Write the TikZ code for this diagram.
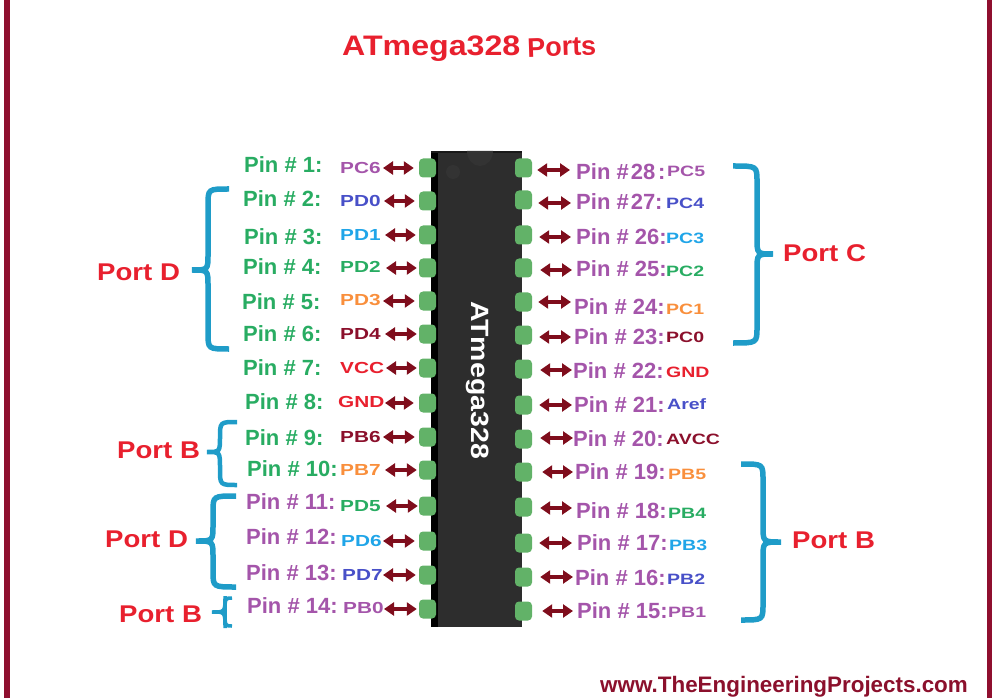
\documentclass[tikz,border=0pt]{standalone}
\usepackage{fontspec}
\setmainfont{Liberation Sans}
\newfontfamily\namefont[FakeStretch=1.3]{Liberation Sans}
\newfontfamily\portfont[FakeStretch=1.14]{Liberation Sans}
\usetikzlibrary{arrows.meta, positioning}
\definecolor{frameclr}{RGB}{143, 15, 47}
\definecolor{portred}{RGB}{232, 32, 46}
\definecolor{pingreen}{RGB}{40, 172, 98}
\definecolor{pinpurple}{RGB}{164, 85, 170}
\definecolor{nameblue}{RGB}{72, 80, 200}
\definecolor{namesky}{RGB}{32, 165, 232}
\definecolor{nameorange}{RGB}{249, 143, 60}
\definecolor{namedark}{RGB}{139, 16, 44}
\definecolor{arrowred}{RGB}{127, 13, 28}
\definecolor{braceblue}{RGB}{31, 156, 200}
\definecolor{padgreen}{RGB}{98, 178, 104}
\definecolor{chipgrey}{RGB}{45, 45, 45}
\newcommand{\portbrace}[6]{(#1,#4) .. controls (#2,#4) .. (#2,{#4+16}) -- (#2,{#5-16})
    .. controls (#2,#5) .. (#3,#5) .. controls (#2,#5) .. (#2,{#5+16})
    -- (#2,{#6-16}) .. controls (#2,#6) .. (#1,#6)}

\begin{document}
\begin{tikzpicture}[x=1pt, y=-1pt,
    pinlbl/.style={anchor=west, inner sep=0pt, font=\bfseries\fontsize{22}{24}\selectfont},
    pinname/.style={anchor=west, inner sep=0pt, font=\namefont\bfseries\fontsize{16}{18}\selectfont},
    rightname/.style={anchor=west, inner sep=0pt, font=\namefont\bfseries\fontsize{15}{18}\selectfont},
    portlbl/.style={anchor=west, inner sep=0pt, text=portred, font=\portfont\bfseries\fontsize{24.2}{26}\selectfont},
    pad/.style={rectangle, rounded corners=4pt, fill=padgreen, inner sep=0pt, minimum width=17pt, minimum height=19pt},
    pinarrow/.style={{Triangle[length=10pt, width=13pt]}-{Triangle[length=10pt, width=13pt]}, line width=4pt, arrowred},
    portbr/.style={draw=braceblue, line width=5.5pt}]

    \useasboundingbox (0,0) rectangle (1000,700);

    % Frame
    \draw[frameclr, line width=5.5pt] (6.75,0) -- (6.75,698);
    \draw[frameclr, line width=5.5pt] (989.5,0) -- (989.5,698);

    % Title
    \node[portlbl, font=\portfont\bfseries\fontsize{28.2}{30}\selectfont] (title) at (342,49) {ATmega328};
    \node[portlbl, rotate=2, font=\bfseries\fontsize{27}{30}\selectfont] (titleb) at (527,48) {Ports};

    % Chip
    \node[rectangle, fill=chipgrey, inner sep=0pt, minimum width=91pt, minimum height=476pt] (chip) at (476.5,389) {};
    \fill[black] (chip.north west) rectangle ([xshift=7pt]chip.south west);
    \fill[black!90] (chip.north west) rectangle ([yshift=-2pt]chip.north east);
    \fill[black!80] (467,151) arc[x radius=13, y radius=15, start angle=180, end angle=0] -- cycle;
    \fill[black!80] (453,172) circle[radius=7];
    \node[rotate=-90, text=white, font=\portfont\bfseries\fontsize{25}{26}\selectfont] (chipname) at (478,380) {ATmega328};

    % Left pads
    \node[pad] (padL1) at (427.5,168) {};
    \node[pad] (padL2) at (427.5,201) {};
    \node[pad] (padL3) at (427.5,235) {};
    \node[pad] (padL4) at (427.5,268) {};
    \node[pad] (padL5) at (427.5,301) {};
    \node[pad] (padL6) at (427.5,334) {};
    \node[pad] (padL7) at (427.5,368) {};
    \node[pad] (padL8) at (427.5,403) {};
    \node[pad] (padL9) at (427.5,437) {};
    \node[pad] (padL10) at (427.5,470) {};
    \node[pad] (padL11) at (427.5,506) {};
    \node[pad] (padL12) at (427.5,541) {};
    \node[pad] (padL13) at (427.5,575) {};
    \node[pad] (padL14) at (427.5,609) {};

    % Right pads
    \node[pad] (padR28) at (523.5,168) {};
    \node[pad] (padR27) at (523.5,200) {};
    \node[pad] (padR26) at (523.5,235) {};
    \node[pad] (padR25) at (523.5,268) {};
    \node[pad] (padR24) at (523.5,302) {};
    \node[pad] (padR23) at (523.5,335) {};
    \node[pad] (padR22) at (523.5,369) {};
    \node[pad] (padR21) at (523.5,405) {};
    \node[pad] (padR20) at (523.5,439) {};
    \node[pad] (padR19) at (523.5,472) {};
    \node[pad] (padR18) at (523.5,507) {};
    \node[pad] (padR17) at (523.5,543) {};
    \node[pad] (padR16) at (523.5,577) {};
    \node[pad] (padR15) at (523.5,611) {};

    % Left pin labels
    \node[pinlbl, text=pingreen] (pinL1) at (244,165) {Pin \# 1:};
    \node[pinlbl, text=pingreen] (pinL2) at (243,199) {Pin \# 2:};
    \node[pinlbl, text=pingreen] (pinL3) at (244,237) {Pin \# 3:};
    \node[pinlbl, text=pingreen] (pinL4) at (243,267) {Pin \# 4:};
    \node[pinlbl, text=pingreen] (pinL5) at (242,302) {Pin \# 5:};
    \node[pinlbl, text=pingreen] (pinL6) at (243,334) {Pin \# 6:};
    \node[pinlbl, text=pingreen] (pinL7) at (243,368) {Pin \# 7:};
    \node[pinlbl, text=pingreen] (pinL8) at (245,402) {Pin \# 8:};
    \node[pinlbl, text=pingreen] (pinL9) at (245,438) {Pin \# 9:};
    \node[pinlbl, text=pingreen] (pinL10) at (247,469) {Pin \# 10:};
    \node[pinlbl, text=pinpurple] (pinL11) at (246,502) {Pin \# 11:};
    \node[pinlbl, text=pinpurple] (pinL12) at (246,537) {Pin \# 12:};
    \node[pinlbl, text=pinpurple] (pinL13) at (246,573) {Pin \# 13:};
    \node[pinlbl, text=pinpurple] (pinL14) at (247,606) {Pin \# 14:};

    % Left port names
    \node[pinname, text=pinpurple] (nameL1) at (340,168) {PC6};
    \node[pinname, text=nameblue] (nameL2) at (340,201) {PD0};
    \node[pinname, text=namesky] (nameL3) at (340,235) {PD1};
    \node[pinname, text=pingreen] (nameL4) at (340,267) {PD2};
    \node[pinname, text=nameorange] (nameL5) at (340,300) {PD3};
    \node[pinname, text=namedark] (nameL6) at (340,334) {PD4};
    \node[pinname, text=portred] (nameL7) at (340,368) {VCC};
    \node[pinname, text=portred] (nameL8) at (338,402) {GND};
    \node[pinname, text=namedark] (nameL9) at (340,437) {PB6};
    \node[pinname, text=nameorange] (nameL10) at (340,470) {PB7};
    \node[pinname, text=pingreen] (nameL11) at (340,506) {PD5};
    \node[pinname, text=namesky] (nameL12) at (341,541) {PD6};
    \node[pinname, text=nameblue] (nameL13) at (342,575) {PD7};
    \node[pinname, text=pinpurple] (nameL14) at (343,608) {PB0};

    % Right pin labels
    \node[pinlbl, text=pinpurple] (pinR28) at (576,172) {Pin \#\kern2pt 28\kern3pt:};
    \node[pinlbl, text=pinpurple] (pinR27) at (576,202) {Pin \#\kern2pt 27:};
    \node[pinlbl, text=pinpurple] (pinR26) at (576,237) {Pin \# 26:};
    \node[pinlbl, text=pinpurple] (pinR25) at (576,269) {Pin \# 25:};
    \node[pinlbl, text=pinpurple] (pinR24) at (574,307) {Pin \# 24:};
    \node[pinlbl, text=pinpurple] (pinR23) at (574,337) {Pin \# 23:};
    \node[pinlbl, text=pinpurple] (pinR22) at (573,371) {Pin \# 22:};
    \node[pinlbl, text=pinpurple] (pinR21) at (574,405) {Pin \# 21:};
    \node[pinlbl, text=pinpurple] (pinR20) at (573,439) {Pin \# 20:};
    \node[pinlbl, text=pinpurple] (pinR19) at (575,472) {Pin \# 19:};
    \node[pinlbl, text=pinpurple] (pinR18) at (576,511) {Pin \# 18:};
    \node[pinlbl, text=pinpurple] (pinR17) at (577,543) {Pin \# 17:};
    \node[pinlbl, text=pinpurple] (pinR16) at (575,578) {Pin \# 16:};
    \node[pinlbl, text=pinpurple] (pinR15) at (577,611) {Pin \# 15:};

    % Right port names
    \node[rightname, text=pinpurple] (nameR28) at (667,171) {PC5};
    \node[rightname, text=nameblue] (nameR27) at (666,203) {PC4};
    \node[rightname, text=namesky] (nameR26) at (666,238) {PC3};
    \node[rightname, text=pingreen] (nameR25) at (666,271) {PC2};
    \node[rightname, text=nameorange] (nameR24) at (666,309) {PC1};
    \node[rightname, text=namedark] (nameR23) at (666,337) {PC0};
    \node[rightname, text=portred] (nameR22) at (666,372) {GND};
    \node[rightname, text=nameblue] (nameR21) at (667,404) {Aref};
    \node[rightname, text=namedark] (nameR20) at (666,439) {AVCC};
    \node[rightname, text=nameorange] (nameR19) at (668,474) {PB5};
    \node[rightname, text=pingreen] (nameR18) at (668,513) {PB4};
    \node[rightname, text=namesky] (nameR17) at (669,545) {PB3};
    \node[rightname, text=nameblue] (nameR16) at (667,579) {PB2};
    \node[rightname, text=pinpurple] (nameR15) at (668,612) {PB1};

    % Arrow tails
    \coordinate (tailL1) at (383,168);
    \coordinate (tailL2) at (384,201);
    \coordinate (tailL3) at (385,235);
    \coordinate (tailL4) at (386,268);
    \coordinate (tailL5) at (383,301);
    \coordinate (tailL6) at (385,334);
    \coordinate (tailL7) at (386,368);
    \coordinate (tailL8) at (385,403);
    \coordinate (tailL9) at (383,437);
    \coordinate (tailL10) at (385,470);
    \coordinate (tailL11) at (386,506);
    \coordinate (tailL12) at (383,541);
    \coordinate (tailL13) at (383,575);
    \coordinate (tailL14) at (384,609);
    \coordinate (tailR28) at (570,170);
    \coordinate (tailR27) at (571,203);
    \coordinate (tailR26) at (571,237);
    \coordinate (tailR25) at (572,270);
    \coordinate (tailR24) at (571,302);
    \coordinate (tailR23) at (571,337);
    \coordinate (tailR22) at (572,370);
    \coordinate (tailR21) at (572,405);
    \coordinate (tailR20) at (573,438);
    \coordinate (tailR19) at (573,472);
    \coordinate (tailR18) at (572,508);
    \coordinate (tailR17) at (572,543);
    \coordinate (tailR16) at (573,577);
    \coordinate (tailR15) at (573,611);

    % Left arrows
    \draw[pinarrow, shorten >=5pt] (tailL1) -- (tailL1 -| padL1.west);
    \draw[pinarrow, shorten >=4pt] (tailL2) -- (tailL2 -| padL2.west);
    \draw[pinarrow, shorten >=3pt] (tailL3) -- (tailL3 -| padL3.west);
    \draw[pinarrow, shorten >=2pt] (tailL4) -- (tailL4 -| padL4.west);
    \draw[pinarrow, shorten >=4pt] (tailL5) -- (tailL5 -| padL5.west);
    \draw[pinarrow, shorten >=2pt] (tailL6) -- (tailL6 -| padL6.west);
    \draw[pinarrow, shorten >=2pt] (tailL7) -- (tailL7 -| padL7.west);
    \draw[pinarrow, shorten >=5pt] (tailL8) -- (tailL8 -| padL8.west);
    \draw[pinarrow, shorten >=4pt] (tailL9) -- (tailL9 -| padL9.west);
    \draw[pinarrow, shorten >=2pt] (tailL10) -- (tailL10 -| padL10.west);
    \draw[pinarrow, shorten >=1pt] (tailL11) -- (tailL11 -| padL11.west);
    \draw[pinarrow, shorten >=4pt] (tailL12) -- (tailL12 -| padL12.west);
    \draw[pinarrow, shorten >=3pt] (tailL13) -- (tailL13 -| padL13.west);
    \draw[pinarrow, shorten >=2pt] (tailL14) -- (tailL14 -| padL14.west);

    % Right arrows
    \draw[pinarrow, shorten >=5pt] (tailR28) -- (tailR28 -| padR28.east);
    \draw[pinarrow, shorten >=6pt] (tailR27) -- (tailR27 -| padR27.east);
    \draw[pinarrow, shorten >=7pt] (tailR26) -- (tailR26 -| padR26.east);
    \draw[pinarrow, shorten >=8pt] (tailR25) -- (tailR25 -| padR25.east);
    \draw[pinarrow, shorten >=6pt] (tailR24) -- (tailR24 -| padR24.east);
    \draw[pinarrow, shorten >=7pt] (tailR23) -- (tailR23 -| padR23.east);
    \draw[pinarrow, shorten >=8pt] (tailR22) -- (tailR22 -| padR22.east);
    \draw[pinarrow, shorten >=7pt] (tailR21) -- (tailR21 -| padR21.east);
    \draw[pinarrow, shorten >=8pt] (tailR20) -- (tailR20 -| padR20.east);
    \draw[pinarrow, shorten >=10pt] (tailR19) -- (tailR19 -| padR19.east);
    \draw[pinarrow, shorten >=8pt] (tailR18) -- (tailR18 -| padR18.east);
    \draw[pinarrow, shorten >=7pt] (tailR17) -- (tailR17 -| padR17.east);
    \draw[pinarrow, shorten >=8pt] (tailR16) -- (tailR16 -| padR16.east);
    \draw[pinarrow, shorten >=10pt] (tailR15) -- (tailR15 -| padR15.east);

    % Braces
    \draw[portbr] \portbrace{229}{208}{192}{189}{270}{349};
    \draw[portbr, line width=4.5pt] \portbrace{237}{220}{207}{422}{452}{485};
    \draw[portbr] \portbrace{236}{213}{196}{496}{541}{587};
    \draw[portbr, line width=3.5pt] \portbrace{232}{225}{212}{598}{612}{626};
    \draw[portbr] \portbrace{733}{757}{773}{166}{254}{343};
    \draw[portbr] \portbrace{741}{763}{781}{464}{542}{620};

    % Port labels
    \node[portlbl] (portD) at (97,272) {Port D};
    \node[portlbl] (portC) at (783,253) {Port C};
    \node[portlbl] (portBa) at (117,450) {Port B};
    \node[portlbl] (portDb) at (105,539) {Port D};
    \node[portlbl] (portBb) at (119,614) {Port B};
    \node[portlbl] (portBc) at (792,540) {Port B};

    % Footer
    \node[anchor=west, inner sep=0pt, text=namedark, font=\bfseries\fontsize{22.4}{24}\selectfont] (footer) at (600,687) {www.TheEngineeringProjects.com};
\end{tikzpicture}
\end{document}
